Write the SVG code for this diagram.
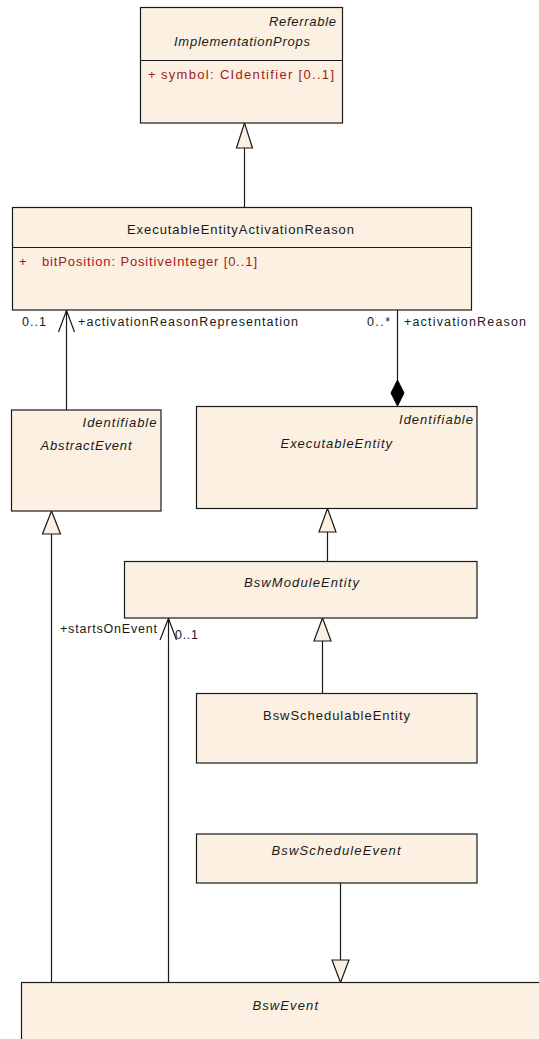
<svg xmlns="http://www.w3.org/2000/svg" width="539" height="1039" viewBox="0 0 539 1039">
<style>
.box{fill:#FBF0E1;stroke:#1a1a1a;stroke-width:1.2}
.ln{fill:none;stroke:#1a1a1a;stroke-width:1.2}
.gen{fill:#FBF0E1;stroke:#1a1a1a;stroke-width:1.2}
.dia{fill:#000;stroke:#000;stroke-width:1}
text{font-family:"Liberation Sans",Arial,sans-serif;font-size:13px;fill:#1a1a1a}
.it{font-style:italic}
.attr{fill:#A11B1B}
.lbl{font-size:12.5px}
</style>
<rect width="539" height="1039" fill="#fff"/>
<g id="connectors">
  <line class="ln" x1="244.5" y1="207.5" x2="244.5" y2="148"/>
  <polygon class="gen" points="244.5,123 236.5,148 252.5,148"/>
  <line class="ln" x1="66.5" y1="410" x2="66.5" y2="310"/>
  <polyline class="ln" points="58.5,332 66.5,310.5 74.5,332"/>
  <line class="ln" x1="397.5" y1="310" x2="397.5" y2="380"/>
  <polygon class="dia" points="397.5,380 404,393 397.5,406 391,393"/>
  <line class="ln" x1="327.5" y1="561.5" x2="327.5" y2="532"/>
  <polygon class="gen" points="327.5,508.5 319,532 336,532"/>
  <line class="ln" x1="51.5" y1="982.5" x2="51.5" y2="534"/>
  <polygon class="gen" points="51.5,511 42.5,534 60.5,534"/>
  <line class="ln" x1="168.5" y1="982.5" x2="168.5" y2="618"/>
  <polyline class="ln" points="160,640 168.5,618.5 176.5,640"/>
  <line class="ln" x1="322.5" y1="693.5" x2="322.5" y2="641"/>
  <polygon class="gen" points="322.5,618 314,641 331,641"/>
  <line class="ln" x1="340.5" y1="883" x2="340.5" y2="960"/>
  <polygon class="gen" points="340.5,982.5 332,960 349,960"/>
  <text class="lbl" x="22" y="326" textLength="24" lengthAdjust="spacing">0..1</text>
  <text class="lbl" x="78" y="326" textLength="220" lengthAdjust="spacing">+activationReasonRepresentation</text>
  <text class="lbl" x="367" y="326" textLength="23" lengthAdjust="spacing">0..*</text>
  <text class="lbl" x="404" y="326" textLength="122" lengthAdjust="spacing">+activationReason</text>
  <text class="lbl" x="60" y="633" textLength="97" lengthAdjust="spacing">+startsOnEvent</text>
  <text class="lbl" x="175" y="639" textLength="23" lengthAdjust="spacing">0..1</text>
</g>
<g id="ImplementationProps">
  <rect class="box" x="140.5" y="7.5" width="202" height="115.5"/>
  <line class="ln" x1="140.5" y1="60.5" x2="342.5" y2="60.5"/>
  <text class="it" x="269" y="25.5" textLength="67" lengthAdjust="spacing">Referrable</text>
  <text class="it" x="174" y="46" textLength="136" lengthAdjust="spacing">ImplementationProps</text>
  <text class="attr" x="148" y="79">+</text>
  <text class="attr" x="161" y="79" textLength="173" lengthAdjust="spacing">symbol: CIdentifier [0..1]</text>
</g>
<g id="ExecutableEntityActivationReason">
  <rect class="box" x="12.5" y="207.5" width="459" height="102.5"/>
  <line class="ln" x1="12.5" y1="247.5" x2="471.5" y2="247.5"/>
  <text x="127" y="233.5" textLength="227" lengthAdjust="spacing">ExecutableEntityActivationReason</text>
  <text class="attr" x="19" y="265.5">+</text>
  <text class="attr" x="42" y="265.5" textLength="215" lengthAdjust="spacing">bitPosition: PositiveInteger [0..1]</text>
</g>
<g id="AbstractEvent">
  <rect class="box" x="11.5" y="410" width="149.5" height="101"/>
  <text class="it" x="82.5" y="427" textLength="74" lengthAdjust="spacing">Identifiable</text>
  <text class="it" x="40.5" y="450" textLength="91" lengthAdjust="spacing">AbstractEvent</text>
</g>
<g id="ExecutableEntity">
  <rect class="box" x="196.5" y="406.5" width="280.5" height="102"/>
  <text class="it" x="399" y="424" textLength="74" lengthAdjust="spacing">Identifiable</text>
  <text class="it" x="280.5" y="447.5" textLength="111.5" lengthAdjust="spacing">ExecutableEntity</text>
</g>
<g id="BswModuleEntity">
  <rect class="box" x="124.5" y="561.5" width="352.5" height="56.5"/>
  <text class="it" x="244" y="587" textLength="115" lengthAdjust="spacing">BswModuleEntity</text>
</g>
<g id="BswSchedulableEntity">
  <rect class="box" x="196.5" y="693.5" width="280.5" height="69.5"/>
  <text x="263" y="720" textLength="147" lengthAdjust="spacing">BswSchedulableEntity</text>
</g>
<g id="BswScheduleEvent">
  <rect class="box" x="196.5" y="834" width="280.5" height="49"/>
  <text class="it" x="271.5" y="854.5" textLength="129" lengthAdjust="spacing">BswScheduleEvent</text>
</g>
<g id="BswEvent">
  <rect class="box" x="21.5" y="982.5" width="540" height="80"/>
  <text class="it" x="252.5" y="1010" textLength="65.5" lengthAdjust="spacing">BswEvent</text>
</g>
</svg>
